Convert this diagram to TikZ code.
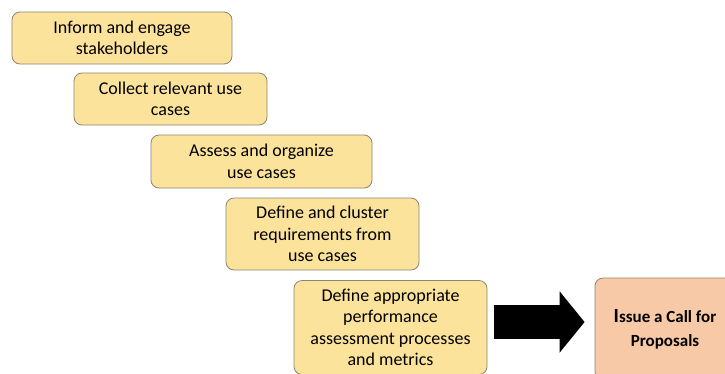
\documentclass[tikz,border=0pt]{standalone}
\usepackage{fontspec}
\setmainfont{Carlito}
\usepackage{tikz}
\usetikzlibrary{positioning}
\usetikzlibrary{arrows.meta}
\definecolor{stagefill}{HTML}{FCE39C}
\definecolor{stageline}{HTML}{8C8570}
\definecolor{callfill}{HTML}{F7C9A6}

\begin{document}
\begin{tikzpicture}[x=1pt, y=-1pt, thick,
  stage/.style = {draw=stageline, line width=0.8pt, fill=stagefill, rounded corners=8pt,
    align=center, inner sep=0pt, font=\fontsize{18}{21.5}\selectfont},
  call/.style = {stage, fill=callfill, font=\bfseries\fontsize{17}{24}\selectfont},
  bigarrow/.style = {line width=34pt, -{Triangle[length=25pt, width=60pt]}}]
\useasboundingbox (0,0) rectangle (725,373);
\node[stage, minimum width=220pt, minimum height=52pt] (inform) at (122,38) {Inform and engage\\stakeholders};
\node[stage, minimum width=193pt, minimum height=52pt] (collect) at (170.5,99) {Collect relevant use\\cases};
\node[stage, minimum width=221pt, minimum height=53pt] (assess) at (261.5,161.5) {Assess and organize\\use cases};
\node[stage, minimum width=193pt, minimum height=72pt] (define) at (322.5,234) {Define and cluster\\requirements from\\use cases};
\node[stage, minimum width=193pt, minimum height=94pt] (metrics) at (390.5,327.5) {Define appropriate\\performance\\assessment processes\\and metrics};
\node[call, minimum width=140pt, minimum height=102pt] (proposals) at (665,329) {{\fontsize{20}{24}\selectfont I}ssue a Call for\\Proposals};
% block arrow into the call
\draw[bigarrow, shorten <=7pt, shorten >=10pt] ([yshift=5.5pt]metrics.east) -- ([yshift=5.5pt]metrics.east -| proposals.west);
\end{tikzpicture}
\end{document}
